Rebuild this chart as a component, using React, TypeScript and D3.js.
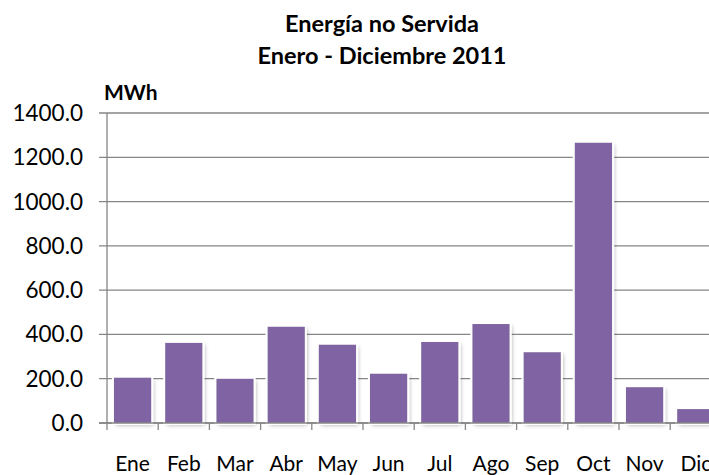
import { useMemo } from 'react';
import * as d3 from 'd3';

const months = ['Ene', 'Feb', 'Mar', 'Abr', 'May', 'Jun', 'Jul', 'Ago', 'Sep', 'Oct', 'Nov', 'Dic'];
const energyMWh = [205, 362, 200, 435, 354, 223, 366, 447, 320, 1266, 162, 63];
const yTicks = [0, 200, 400, 600, 800, 1000, 1200, 1400];
const titleLines = ['Energía no Servida', 'Enero - Diciembre 2011'];
const unitLabel = 'MWh';

const WIDTH = 709;
const HEIGHT = 475;
const FONT = 'Lato, "Open Sans", sans-serif';
const BAR_COLOR = '#8064a2';
const GRID_COLOR = '#868686';

export default function App() {
    const plot = { left: 107, right: 721.4, top: 113, bottom: 423 };

    const x = useMemo(
        () =>
            d3
                .scaleBand<string>()
                .domain(months)
                .range([plot.left, plot.right])
                .paddingInner(0.27)
                .paddingOuter(0.135),
        []
    );
    const y = useMemo(() => d3.scaleLinear().domain([0, 1400]).range([plot.bottom, plot.top]), []);

    const step = x.step();
    const bandStart = (m: string) => (x(m) ?? 0) - step * 0.135;

    return (
        <svg
            width={WIDTH}
            height={HEIGHT}
            viewBox={`0 0 ${WIDTH} ${HEIGHT}`}
            style={{ position: 'absolute', left: 0, top: 0, background: '#fff' }}
            fontFamily={FONT}
        >
            <defs>
                <filter id="barShadow" x="-30%" y="-10%" width="160%" height="130%">
                    <feGaussianBlur in="SourceAlpha" stdDeviation="2.2" result="blur" />
                    <feOffset in="blur" dx="2" dy="2" result="off" />
                    <feComponentTransfer in="off" result="shadow">
                        <feFuncA type="linear" slope="0.35" />
                    </feComponentTransfer>
                    <feMorphology in="SourceAlpha" operator="dilate" radius="1.5" result="dil" />
                    <feFlood floodColor="#ffffff" result="white" />
                    <feComposite in="white" in2="dil" operator="in" result="halo" />
                    <feMerge>
                        <feMergeNode in="shadow" />
                        <feMergeNode in="halo" />
                        <feMergeNode in="SourceGraphic" />
                    </feMerge>
                </filter>
            </defs>

            {/* title */}
            <text textAnchor="middle" fontWeight={700} fontSize={23.5} fill="#000">
                <tspan x={382} y={32}>
                    {titleLines[0]}
                </tspan>
                <tspan x={382} y={64}>
                    {titleLines[1]}
                </tspan>
            </text>

            <text x={104} y={100} fontWeight={700} fontSize={21} fill="#000">
                {unitLabel}
            </text>

            {/* gridlines + y ticks */}
            {yTicks.map((t) => (
                <g key={t}>
                    <line x1={99} x2={plot.right} y1={y(t)} y2={y(t)} stroke={GRID_COLOR} strokeWidth={1.3} />
                    <text x={83} y={y(t) + 8} textAnchor="end" fontSize={22.5} fill="#000">
                        {t.toFixed(1)}
                    </text>
                </g>
            ))}

            {/* bars */}
            <g filter="url(#barShadow)">
                {months.map((m, i) => (
                    <rect
                        key={m}
                        x={x(m)}
                        y={y(energyMWh[i])}
                        width={x.bandwidth()}
                        height={y(0) - y(energyMWh[i])}
                        fill={BAR_COLOR}
                    />
                ))}
            </g>

            {/* axes */}
            <line x1={plot.left} x2={plot.left} y1={plot.top} y2={plot.bottom + 7} stroke={GRID_COLOR} strokeWidth={1.3} />
            <line x1={99} x2={plot.right} y1={plot.bottom} y2={plot.bottom} stroke={GRID_COLOR} strokeWidth={1.3} />
            {months.map((m) => (
                <line
                    key={`t-${m}`}
                    x1={bandStart(m) + step}
                    x2={bandStart(m) + step}
                    y1={plot.bottom}
                    y2={plot.bottom + 7}
                    stroke={GRID_COLOR}
                    strokeWidth={1.3}
                />
            ))}

            {/* category labels (Dic runs off the right edge, as in the source) */}
            {months.map((m) => (
                <text key={`l-${m}`} x={(x(m) ?? 0) + x.bandwidth() / 2} y={471} textAnchor="middle" fontSize={21} fill="#000">
                    {m}
                </text>
            ))}
        </svg>
    );
}
